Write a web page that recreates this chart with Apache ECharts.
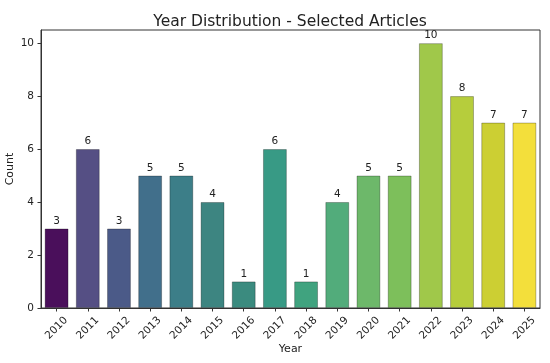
<!DOCTYPE html>
<html>
<head>
<meta charset="utf-8">
<script src="https://cdn.jsdelivr.net/npm/echarts@6/dist/echarts.min.js"></script>
<style>
html,body{margin:0;padding:0;background:#ffffff;}
#chart{width:550px;height:363px;}
</style>
</head>
<body>
<div id="chart"></div>
<script>
const years = ['2010','2011','2012','2013','2014','2015','2016','2017','2018','2019','2020','2021','2022','2023','2024','2025'];
const counts = [3, 6, 3, 5, 5, 4, 1, 6, 1, 4, 5, 5, 10, 8, 7, 7];
const barColors = ['#4a0f5b','#554f84','#4b5a88','#416f8b','#3c7e88','#3d8581','#3b8b7f','#389a85','#40a37f','#52ac7b','#6db86a','#7dbf5b','#a0c84a','#b6cd3c','#cccf33','#f3df3b'];
const yTicks = [0, 2, 4, 6, 8, 10];

const FONT = 'DejaVu Sans';
const chart = echarts.init(document.getElementById('chart'), null, {renderer: 'canvas'});
chart.setOption({
  backgroundColor: '#ffffff',
  animation: false,
  title: {
    text: 'Year Distribution - Selected Articles',
    left: 285,
    textAlign: 'center',
    top: 9,
    textStyle: {fontFamily: FONT, fontSize: 15.5, fontWeight: 'normal', color: '#222'}
  },
  grid: {left: 41, right: 10, top: 30, bottom: 55, containLabel: false, outerBoundsMode: 'none', show: true, borderColor: '#333', borderWidth: 1, backgroundColor: 'transparent'},
  xAxis: {
    type: 'category',
    data: years,
    name: 'Year',
    nameLocation: 'middle',
    nameGap: 36,
    nameMoveOverlap: false,
    nameTextStyle: {fontFamily: FONT, fontSize: 11, color: '#222'},
    axisLine: {show: true, lineStyle: {color: '#333', width: 1}},
    axisTick: {show: true, alignWithLabel: true, length: 3.5, lineStyle: {color: '#333'}},
    axisLabel: {rotate: 45, align: 'center', verticalAlign: 'middle', margin: 20, fontFamily: FONT, fontSize: 10.5, color: '#222', interval: 0}
  },
  yAxis: {
    type: 'value',
    min: 0,
    max: 10.5,
    interval: 2,
    name: 'Count',
    nameLocation: 'middle',
    nameGap: 25,
    nameMoveOverlap: false,
    nameTextStyle: {fontFamily: FONT, fontSize: 11, color: '#222'},
    splitLine: {show: false},
    axisLine: {show: true, lineStyle: {color: '#333', width: 1}},
    axisTick: {show: true, length: 3.5, lineStyle: {color: '#333'}, customValues: yTicks},
    axisLabel: {margin: 7, fontFamily: FONT, fontSize: 10.5, color: '#222', customValues: yTicks}
  },
  series: [{
    type: 'bar',
    barWidth: '76%',
    data: counts.map((v, i) => ({value: v, itemStyle: {color: barColors[i]}})),
    itemStyle: {borderColor: 'rgba(0,0,0,0.35)', borderWidth: 0.8},
    label: {show: true, position: 'top', distance: 2, fontFamily: FONT, fontSize: 10.5, color: '#222'}
  }]
});
</script>
</body>
</html>
